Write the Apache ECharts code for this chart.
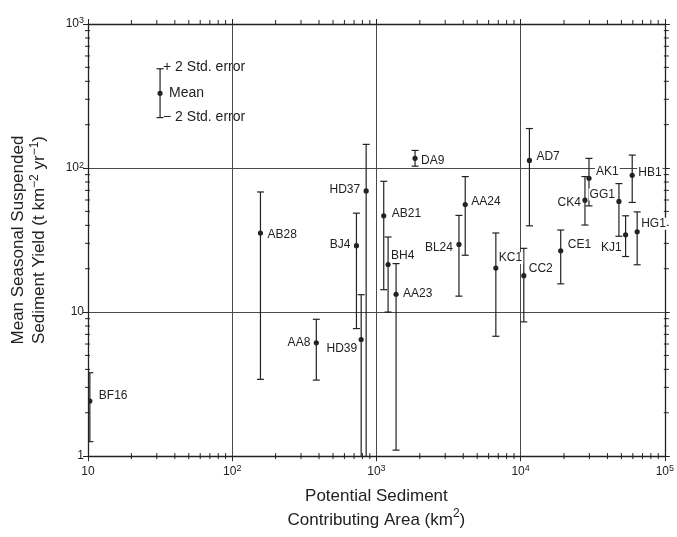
<!DOCTYPE html>
<html>
<head>
<meta charset="utf-8">
<script src="https://cdn.jsdelivr.net/npm/echarts@6/dist/echarts.min.js"></script>
<style>
  html, body { margin: 0; padding: 0; background: #fff; }
  #main { width: 677px; height: 537px; }
</style>
</head>
<body>
<div id="main"></div>
<script>
// station data
var sites = ['BF16', 'AB28', 'AA8', 'BJ4', 'HD39', 'HD37', 'AB21', 'BH4', 'AA23', 'DA9', 'BL24',
             'AA24', 'KC1', 'CC2', 'AD7', 'CE1', 'CK4', 'AK1', 'GG1', 'KJ1', 'HB1', 'HG1'];
var areas = [10.3, 157, 383, 727, 784, 849, 1124, 1205, 1369, 1853, 3736,
             4130, 6733, 10520, 11510, 18970, 27940, 29790, 48060, 53460, 59410, 64300];
var meanYield = [2.41, 35.4, 6.12, 28.9, 6.45, 69.3, 46.6, 21.4, 13.3, 116.7, 29.5,
                 55.8, 20.2, 17.9, 113, 26.6, 59.8, 84.9, 58.6, 34.4, 89.0, 36.1];
var lowerYield = [1.26, 3.41, 3.37, 7.68, 0.8, 0.8, 14.3, 10.0, 1.10, 103, 12.9,
                  24.8, 6.79, 8.55, 39.7, 15.7, 40.2, 54.6, 33.6, 24.3, 57.7, 21.3];
var upperYield = [3.79, 68.2, 8.91, 48.6, 13.2, 146, 80.9, 33.2, 21.7, 132.5, 46.9,
                  87.2, 35.4, 27.7, 188, 37.1, 87.2, 116.7, 78.0, 46.6, 123, 49.6];

// the key drawn in the upper left corner
var keyArea = [31.6];
var keyMean = [330];
var keyLower = [224];
var keyUpper = [489];
var keyTexts = ['+ 2 Std. error', 'Mean', '\u2212 2 Std. error'];

var xRange = [10, 100000];
var yRange = [1, 1000];
var minorSteps = [2, 3, 4, 5, 6, 7, 8, 9];
var xDecades = [10, 100, 1000, 10000];
var yDecades = [1, 10, 100];

var ink = '#222';
var gridInk = '#4a4a4a';
var font = '"Liberation Sans", Arial, Helvetica, sans-serif';

// label offsets from the dot: [dx, dy, align]
var labelPlacement = {
    BF16: [8, -5, 'left'], AB28: [6, 2, 'left'], AA8: [-5, 0, 'right'],
    BJ4: [-5, -1, 'right'], HD39: [-3, 9, 'right'], HD37: [-5, -1, 'right'],
    AB21: [7, -2, 'left'], BH4: [2, -9, 'left'], AA23: [6, -1, 'left'],
    DA9: [5, 2, 'left'], BL24: [-5, 3, 'right'], AA24: [5, -3, 'left'],
    KC1: [2, -10, 'left'], CC2: [4, -7, 'left'], AD7: [6, -4, 'left'],
    CE1: [6, -6, 'left'], CK4: [-3, 2, 'right'], AK1: [6, -7, 'left'],
    GG1: [-3, -7, 'right'], KJ1: [-3, 13, 'right'], HB1: [5, -3, 'left'],
    HG1: [3, -8, 'left']
};

var barData = sites.map(function (s, i) {
    return [areas[i], meanYield[i], lowerYield[i], upperYield[i]];
});
var keyData = keyArea.map(function (a, i) {
    return [a, keyMean[i], keyLower[i], keyUpper[i]];
});

var xMinor = [];
xDecades.forEach(function (d) {
    minorSteps.forEach(function (m) { xMinor.push([d * m, yRange[0]]); });
});
var yMinor = [];
yDecades.forEach(function (d) {
    minorSteps.forEach(function (m) { yMinor.push([xRange[0], d * m]); });
});

function powLabel(v) {
    var e = Math.round(Math.log(v) / Math.LN10);
    if (e === 0) return '1';
    if (e === 1) return '10';
    return '10{sup|' + e + '}';
}

function line(x1, y1, x2, y2, w) {
    return {
        type: 'line',
        shape: { x1: x1, y1: y1, x2: x2, y2: y2 },
        style: { stroke: ink, lineWidth: w || 1.2 }
    };
}

function errorBarShapes(api) {
    var x = api.value(0);
    var mid = api.coord([x, api.value(1)]);
    var lo = api.coord([x, api.value(2)]);
    var hi = api.coord([x, api.value(3)]);
    var cap = 3.5;
    return {
        mid: mid, lo: lo, hi: hi,
        children: [
            line(mid[0], lo[1], mid[0], hi[1]),
            line(mid[0] - cap, hi[1], mid[0] + cap, hi[1]),
            line(mid[0] - cap, lo[1], mid[0] + cap, lo[1]),
            { type: 'circle', shape: { cx: mid[0], cy: mid[1], r: 2.6 }, style: { fill: ink } }
        ]
    };
}

function renderBar(params, api) {
    return { type: 'group', children: errorBarShapes(api).children };
}

function renderLabel(params, api) {
    var name = sites[params.dataIndex];
    var place = labelPlacement[name];
    var p = api.coord([api.value(0), api.value(1)]);
    return {
        type: 'text',
        x: p[0] + place[0],
        y: p[1] + place[1],
        style: {
            text: name, fill: ink, font: '12px ' + font,
            align: place[2], verticalAlign: 'middle',
            backgroundColor: '#fff', padding: [0, 1]
        }
    };
}

function renderKey(params, api) {
    var b = errorBarShapes(api);
    var kids = b.children.slice();
    var pos = [[b.hi[0] + 3, b.hi[1] - 2], [b.mid[0] + 9, b.mid[1]], [b.lo[0] + 3, b.lo[1]]];
    keyTexts.forEach(function (t, i) {
        kids.push({
            type: 'text', x: pos[i][0], y: pos[i][1],
            style: { text: t, fill: ink, font: '14px ' + font, align: 'left', verticalAlign: 'middle' }
        });
    });
    return { type: 'group', children: kids };
}

function renderXMinor(params, api) {
    var cs = params.coordSys;
    var px = api.coord([api.value(0), yRange[0]])[0];
    var bottom = cs.y + cs.height;
    return {
        type: 'group',
        children: [line(px, bottom - 3, px, bottom + 3, 1), line(px, cs.y - 4, px, cs.y + 1, 1)]
    };
}

function renderYMinor(params, api) {
    var cs = params.coordSys;
    var py = api.coord([xRange[0], api.value(1)])[1];
    var right = cs.x + cs.width;
    return {
        type: 'group',
        children: [line(cs.x - 3, py, cs.x + 2, py, 1), line(right - 1, py, right + 4, py, 1)]
    };
}

var myChart = echarts.init(document.getElementById('main'));

var axisText = { fontSize: 12, color: ink, fontFamily: font };
var supStyle = { fontSize: 9, lineHeight: 9, verticalAlign: 'top', color: ink, fontFamily: font };
var titleStyle = { fontSize: 17, color: ink, fontFamily: font };

var option = {
    backgroundColor: '#fff',
    animation: false,
    grid: { left: 88, right: 11, top: 24, bottom: 79 },
    xAxis: [{
        type: 'log', logBase: 10, min: xRange[0], max: xRange[1],
        position: 'bottom',
        axisLine: { show: true, lineStyle: { color: ink, width: 1.3 } },
        axisTick: { show: true, length: 5, lineStyle: { color: ink } },
        axisLabel: {
            show: true, margin: 8, lineHeight: 15,
            fontSize: 12, color: ink, fontFamily: font,
            formatter: powLabel,
            rich: { sup: supStyle }
        },
        splitLine: { show: true, lineStyle: { color: gridInk, width: 1 } },
        name: '{t|Potential Sediment}\n{t|Contributing Area (km}{s|2}{t|)}',
        nameLocation: 'middle',
        nameGap: 26,
        nameTextStyle: {
            lineHeight: 24,
            rich: {
                t: { fontSize: 17, lineHeight: 24, color: ink, fontFamily: font },
                s: { fontSize: 12, lineHeight: 12, verticalAlign: 'top', color: ink, fontFamily: font }
            }
        }
    }, {
        type: 'log', logBase: 10, min: xRange[0], max: xRange[1],
        position: 'top',
        axisLine: { show: true, lineStyle: { color: ink, width: 1.3 } },
        axisTick: { show: true, length: 5, lineStyle: { color: ink } },
        axisLabel: { show: false },
        splitLine: { show: false }
    }],
    yAxis: [{
        type: 'log', logBase: 10, min: yRange[0], max: yRange[1],
        position: 'left',
        axisLine: { show: true, lineStyle: { color: ink, width: 1.3 } },
        axisTick: { show: true, length: 5, lineStyle: { color: ink } },
        axisLabel: {
            show: true, margin: 4, lineHeight: 15,
            fontSize: 12, color: ink, fontFamily: font,
            formatter: powLabel,
            rich: { sup: supStyle }
        },
        splitLine: { show: true, lineStyle: { color: gridInk, width: 1 } },
        name: '{t|Mean Seasonal Suspended}\n{t|Sediment Yield (t km}{s|\u22122}{t| yr}{s|\u22121}{t|)}',
        nameLocation: 'middle',
        nameRotate: 90,
        nameGap: 38,
        nameTextStyle: {
            lineHeight: 21,
            rich: {
                t: { fontSize: 17, lineHeight: 21, color: ink, fontFamily: font },
                s: { fontSize: 12, lineHeight: 12, verticalAlign: 'top', color: ink, fontFamily: font }
            }
        }
    }, {
        type: 'log', logBase: 10, min: yRange[0], max: yRange[1],
        position: 'right',
        axisLine: { show: true, lineStyle: { color: ink, width: 1.3 } },
        axisTick: { show: true, length: 5, lineStyle: { color: ink } },
        axisLabel: { show: false },
        splitLine: { show: false }
    }],
    series: [{
        type: 'custom', name: 'xMinor', renderItem: renderXMinor,
        data: xMinor, encode: { x: 0, y: 1 }, silent: true, z: 3
    }, {
        type: 'custom', name: 'yMinor', renderItem: renderYMinor,
        data: yMinor, encode: { x: 0, y: 1 }, silent: true, z: 3
    }, {
        type: 'custom', name: 'errorBars', renderItem: renderBar,
        data: barData, encode: { x: 0, y: 1 }, clip: true, z: 5
    }, {
        type: 'custom', name: 'labels', renderItem: renderLabel,
        data: barData, encode: { x: 0, y: 1 }, z: 6
    }, {
        type: 'custom', name: 'key', renderItem: renderKey,
        data: keyData, encode: { x: 0, y: 1 }, z: 6
    }]
};

myChart.setOption(option);
</script>
</body>
</html>
